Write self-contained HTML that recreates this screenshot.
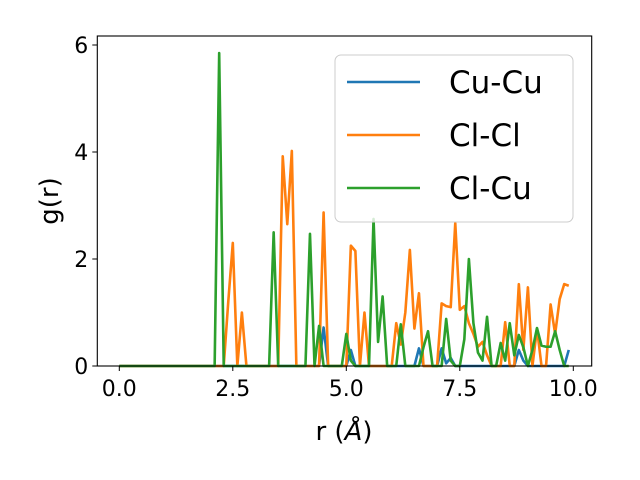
<!DOCTYPE html>
<html><head><meta charset="utf-8"><style>
body{margin:0;background:#fff;}
svg{display:block;font-family:"DejaVu Sans","Liberation Sans",sans-serif;}
</style></head><body>
<svg id="chart" width="640" height="480" viewBox="0 0 640 480">
<g id="plot"></g>
</svg>
<script>
const categories = [];
for (let i = 0; i < 100; i++) categories.push(+(i * 0.1).toFixed(1));
function series(pairs){ const a = new Array(100).fill(0); for (const k in pairs) a[Math.round(parseFloat(k)*10)] = pairs[k]; return a; }
const cuCu = series({"4.5":0.72,"5.1":0.3,"6.6":0.33,"7.1":0.33,"7.2":0.05,"7.3":0.15,"8.8":0.3,"8.9":0.1,"9.9":0.3});
const clCl = series({"2.4":1.2,"2.5":2.3,"2.7":1.0,"3.6":3.92,"3.7":2.65,"3.8":4.02,"4.5":2.87,"5.1":2.25,"5.2":2.15,"5.4":1.0,
 "6.1":0.8,"6.2":0.4,"6.3":1.0,"6.4":2.17,"6.5":0.7,"6.6":1.36,"7.1":1.17,"7.2":1.12,"7.3":1.1,"7.4":2.67,"7.5":1.05,"7.6":1.12,
 "7.7":0.8,"7.8":0.6,"7.9":0.36,"8.0":0.45,"8.1":0.2,"8.5":0.82,"8.8":1.53,"8.9":0.3,"9.0":1.47,"9.2":0.7,"9.5":1.15,"9.6":0.6,"9.7":1.25,"9.8":1.53,"9.9":1.5});
const clCu = series({"2.2":5.85,"3.4":2.5,"4.2":2.47,"4.4":0.75,"5.0":0.6,"5.1":0.1,"5.6":2.75,"5.7":0.45,"5.8":1.3,
 "6.2":0.78,"6.7":0.35,"6.8":0.65,"7.2":0.88,"7.3":0.1,"7.6":0.5,"7.7":2.0,"7.8":0.8,"7.9":0.25,"8.0":0.1,"8.1":0.92,"8.4":0.43,"8.5":0.1,"8.6":0.8,"8.7":0.2,"8.8":0.58,"8.9":0.35,
 "9.1":0.3,"9.2":0.71,"9.3":0.38,"9.4":0.36,"9.5":0.36,"9.6":0.65,"9.7":0.3});
const xTicks = [0, 2.5, 5, 7.5, 10];
const xTickLabels = ["0.0","2.5","5.0","7.5","10.0"];
const yTicks = [0, 2, 4, 6];
const yTickLabels = ["0","2","4","6"];
const names = ["Cu-Cu","Cl-Cl","Cl-Cu"];
const colors = ["#1f77b4","#ff7f0e","#2ca02c"];

const L=97.3,R=591.7,T=36,B=366;
const xs = v => 119.3 + v*45.4;
const ys = v => 366 - v*53.5;
const NS="http://www.w3.org/2000/svg";
const svg=document.getElementById('chart');
function mk(tag,attrs,parent){const e=document.createElementNS(NS,tag);for(const k in attrs)e.setAttribute(k,attrs[k]);(parent||svg).appendChild(e);return e;}

const allSeries=[cuCu,clCl,clCu];
allSeries.forEach((s,i)=>{
  const d=s.map((v,j)=>(j?'L':'M')+xs(categories[j]).toFixed(2)+','+ys(v).toFixed(2)).join(' ');
  const p=mk('path',{d:d,fill:'none',stroke:colors[i],'stroke-width':2.6,'stroke-linejoin':'round'});
  
  
});
const frame=mk('rect',{x:L,y:T,width:R-L,height:B-T,fill:'none',stroke:'#000','stroke-width':1.1});


xTicks.forEach((t,i)=>{
  const tk=mk('line',{x1:xs(t),x2:xs(t),y1:B,y2:B+5,stroke:'#000','stroke-width':1});
  
  
  const tx=mk('text',{x:xs(t),y:B+30,'font-size':22,'text-anchor':'middle'});
  tx.textContent=xTickLabels[i];
  
  
});
yTicks.forEach((t,i)=>{
  const tk=mk('line',{x1:L-5,x2:L,y1:ys(t),y2:ys(t),stroke:'#000','stroke-width':1});
  
  
  const tx=mk('text',{x:L-9,y:ys(t)+8,'font-size':22,'text-anchor':'end'});
  tx.textContent=yTickLabels[i];
  
  
});
const xl=mk('text',{x:344,y:440,'font-size':26,'text-anchor':'middle'});
xl.innerHTML='r (<tspan font-style="italic">Å</tspan>)';


const yl=mk('text',{x:0,y:0,'font-size':26,'text-anchor':'middle',transform:'translate(58,201) rotate(-90)'});
yl.textContent='g(r)';


const lg=mk('g',{});


mk('rect',{x:335,y:55,width:238,height:167,rx:6,fill:'#fff','fill-opacity':0.8,stroke:'#ccc','stroke-width':1},lg);
names.forEach((n,i)=>{
  const y=82+i*53;
  const ln=mk('line',{x1:347,x2:420,y1:y,y2:y,stroke:colors[i],'stroke-width':2.6},lg);
  
  
  const t=mk('text',{x:449,y:y+11,'font-size':31},lg);
  t.textContent=n;
  
  
});
</script>
</body></html>
